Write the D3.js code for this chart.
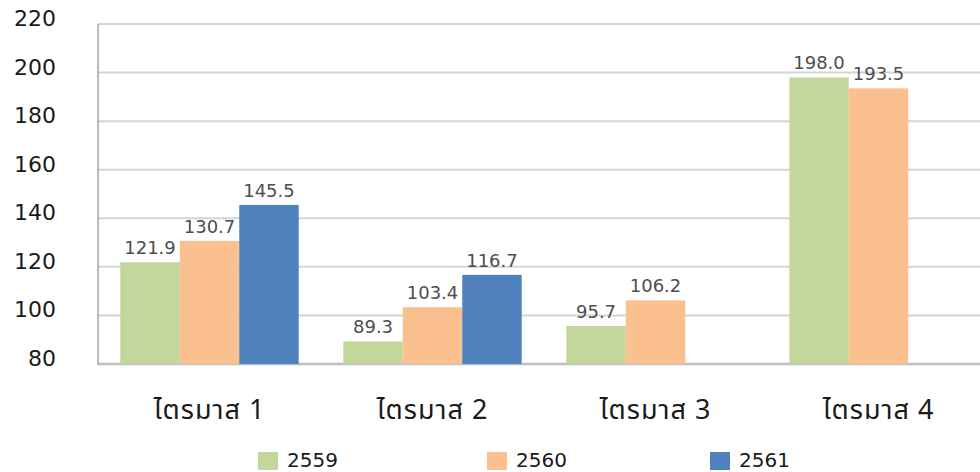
<!DOCTYPE html>
<html>
<head>
<meta charset="utf-8">
<script src="https://cdn.jsdelivr.net/npm/d3@7"></script>
<style>
  body { margin: 0; background: #fff; }
  svg { display: block; }
</style>
</head>
<body>
<script>
// ข้อมูลรายไตรมาส
const quarters = ["ไตรมาส 1", "ไตรมาส 2", "ไตรมาส 3", "ไตรมาส 4"];
const years = ["2559", "2560", "2561"];
const v2559 = [121.9, 89.3, 95.7, 198.0];
const v2560 = [130.7, 103.4, 106.2, 193.5];
const v2561 = [145.5, 116.7, null, null];
const yTicks = [80, 100, 120, 140, 160, 180, 200, 220];
const colors = ["#c3d69b", "#fac090", "#4f81bd"];

const series = [v2559, v2560, v2561];
const width = 980, height = 472;
const font = "'DejaVu Sans', Verdana, sans-serif";

const svg = d3.select("body").append("svg")
  .attr("width", width)
  .attr("height", height);

const x = d3.scaleBand().domain(quarters).range([98, 990])
  .paddingInner(0.2).paddingOuter(0.1);
const x1 = d3.scaleBand().domain(years).range([0, x.bandwidth()]);
const y = d3.scaleLinear().domain([80, 220]).range([364, 24]);

// gridlines
svg.append("g")
  .selectAll("line")
  .data(yTicks)
  .join("line")
  .attr("x1", 98).attr("x2", width)
  .attr("y1", d => y(d)).attr("y2", d => y(d))
  .attr("stroke", d => d === 80 ? "#bfbfbf" : "#d4d4d4")
  .attr("stroke-width", d => d === 80 ? 2.5 : 2);

// left axis line
svg.append("line")
  .attr("x1", 98).attr("x2", 98)
  .attr("y1", y(220)).attr("y2", y(80) + 1)
  .attr("stroke", "#a6a6a6").attr("stroke-width", 1.5);

// y labels
svg.append("g")
  .selectAll("text")
  .data(yTicks)
  .join("text")
  .attr("x", 56)
  .attr("y", d => y(d) - 4)
  .attr("text-anchor", "end")
  .attr("dominant-baseline", "middle")
  .attr("font-family", font)
  .attr("font-size", 22)
  .attr("fill", "#1a1a1a")
  .text(d => d);

// bars
const flat = [];
quarters.forEach((q, i) => {
  years.forEach((yr, j) => {
    if (series[j][i] != null) flat.push({ q: q, yr: yr, v: series[j][i], c: colors[j] });
  });
});

svg.append("g")
  .selectAll("rect")
  .data(flat)
  .join("rect")
  .attr("x", d => x(d.q) + x1(d.yr))
  .attr("width", x1.bandwidth())
  .attr("y", d => y(d.v))
  .attr("height", d => y(80) - y(d.v))
  .attr("fill", d => d.c);

// value labels
svg.append("g")
  .selectAll("text")
  .data(flat)
  .join("text")
  .attr("x", d => x(d.q) + x1(d.yr) + x1.bandwidth() / 2)
  .attr("y", d => y(d.v) - 8)
  .attr("text-anchor", "middle")
  .attr("font-family", font)
  .attr("font-size", 18)
  .attr("fill", "#4d4d4d")
  .text(d => d.v.toFixed(1));

// category labels
svg.append("g")
  .selectAll("text")
  .data(quarters)
  .join("text")
  .attr("x", d => x(d) + x.bandwidth() / 2)
  .attr("y", 419)
  .attr("text-anchor", "middle")
  .attr("font-family", "'Noto Sans Thai', Tahoma, 'DejaVu Sans', sans-serif")
  .attr("font-size", 27)
  .attr("letter-spacing", 1)
  .attr("fill", "#1a1a1a")
  .text(d => d);

// legend
const legendX = [258, 487, 710];
const lg = svg.append("g")
  .selectAll("g")
  .data(years)
  .join("g")
  .attr("transform", (d, i) => `translate(${legendX[i]},452)`);
lg.append("rect").attr("width", 20).attr("height", 18).attr("fill", (d, i) => colors[i]);
lg.append("text")
  .attr("x", 29).attr("y", 9)
  .attr("dominant-baseline", "middle")
  .attr("font-family", font)
  .attr("font-size", 20)
  .attr("fill", "#1a1a1a")
  .text(d => d);
</script>
</body>
</html>
